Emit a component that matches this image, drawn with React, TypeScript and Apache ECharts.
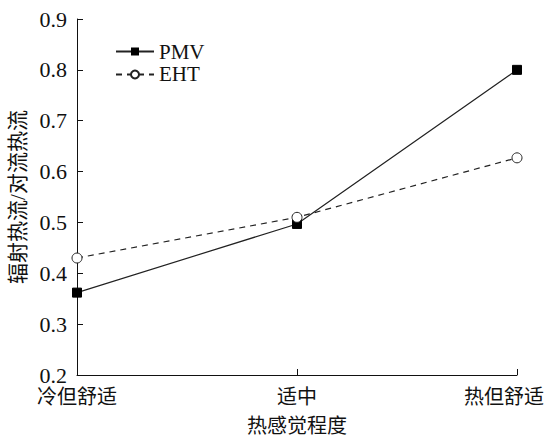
import React, { useEffect, useRef } from "react";
import * as echarts from "echarts";

const categories = ["冷但舒适", "适中", "热但舒适"];
const pmvValues = [0.362, 0.497, 0.8];
const ehtValues = [0.43, 0.51, 0.627];
const yTicks = { min: 0.2, max: 0.9, interval: 0.1 };

const FONT = "'Liberation Serif', 'Noto Sans CJK SC', serif";

export default function App() {
  const ref = useRef<HTMLDivElement>(null);
  useEffect(() => {
    const chart = echarts.init(ref.current!, null, { renderer: "svg" });
    chart.setOption({
      animation: false,
      backgroundColor: "#fff",
      textStyle: { fontFamily: FONT, color: "#111" },
      grid: {
        left: 77,
        right: 29,
        top: 19,
        bottom: 63,
        containLabel: false,
        outerBoundsMode: "none",
      },
      legend: {
        orient: "vertical",
        left: 110,
        top: 36,
        itemWidth: 38,
        itemHeight: 10,
        itemGap: 2,
        textStyle: { fontFamily: FONT, fontSize: 21, color: "#111" },
        data: ["PMV", "EHT"],
      },
      xAxis: {
        type: "category",
        data: categories,
        boundaryGap: false,
        name: "热感觉程度",
        nameLocation: "middle",
        nameGap: 41,
        nameTextStyle: { fontFamily: FONT, fontSize: 20, lineHeight: 20, color: "#111" },
        axisLine: { lineStyle: { color: "#111", width: 1 } },
        axisTick: { inside: true, length: 6, lineStyle: { color: "#111" } },
        axisLabel: {
          fontFamily: FONT,
          fontSize: 20,
          lineHeight: 20,
          color: "#111",
          margin: 12,
          formatter: (v: string, i: number) =>
            i === categories.length - 1 ? `{last|${v}}` : v,
          rich: {
            last: {
              fontFamily: FONT,
              fontSize: 20,
              lineHeight: 20,
              color: "#111",
              padding: [0, 26, 0, 0],
            },
          },
        },
      },
      yAxis: {
        type: "value",
        min: yTicks.min,
        max: yTicks.max,
        interval: yTicks.interval,
        name: "辐射热流/对流热流",
        nameLocation: "middle",
        nameGap: 39,
        nameTextStyle: { fontFamily: FONT, fontSize: 21, color: "#111" },
        axisLine: { show: true, lineStyle: { color: "#111", width: 1 } },
        axisTick: { show: true, inside: true, length: 6, lineStyle: { color: "#111" } },
        axisLabel: {
          fontFamily: FONT,
          fontSize: 22,
          lineHeight: 18,
          color: "#111",
          margin: 10,
          formatter: (v: number) => v.toFixed(1),
        },
        splitLine: { show: false },
      },
      series: [
        {
          name: "PMV",
          type: "line",
          data: pmvValues,
          symbol: "rect",
          symbolSize: 9,
          itemStyle: { color: "#000", borderColor: "#000" },
          lineStyle: { color: "#222", width: 1.2, type: "solid" },
        },
        {
          name: "EHT",
          type: "line",
          data: ehtValues,
          symbol: "circle",
          symbolSize: 10,
          itemStyle: { color: "#fff", borderColor: "#222", borderWidth: 1 },
          lineStyle: { color: "#222", width: 1.2, type: [6, 5] },
        },
      ],
    });
    return () => chart.dispose();
  }, []);
  return (
    <div
      ref={ref}
      style={{ position: "absolute", left: 0, top: 0, width: 546, height: 438 }}
    />
  );
}
